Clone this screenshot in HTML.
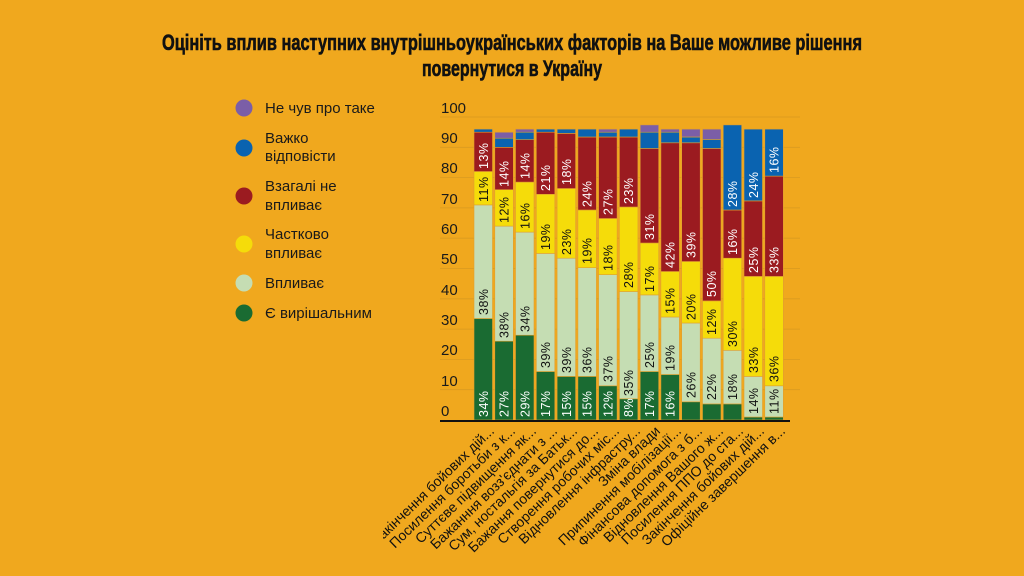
<!DOCTYPE html>
<html><head><meta charset="utf-8"><style>
html,body{margin:0;padding:0;background:#F0A81E;}
svg{display:block;font-family:"Liberation Sans",sans-serif;}
.t{font-family:"Liberation Sans Narrow","Liberation Sans",sans-serif;font-weight:bold;font-size:22px;fill:#111;stroke:#111;stroke-width:0.6;}
.lg{font-family:"Liberation Sans Narrow","Liberation Sans",sans-serif;font-size:15px;fill:#1a1a1a;}
.yl{font-family:"Liberation Sans Narrow","Liberation Sans",sans-serif;font-size:15px;fill:#1a1a1a;}
.v{font-size:12.5px;letter-spacing:0.5px;}
.w{fill:#fff}.k{fill:#111}
.c{font-size:14px;fill:#111;}
</style></head><body>
<svg width="1024" height="576" viewBox="0 0 1024 576">
<rect width="1024" height="576" fill="#F0A81E"/>
<text class="t" x="512" y="50" text-anchor="middle" textLength="700" lengthAdjust="spacingAndGlyphs">Оцініть вплив наступних внутрішньоукраїнських факторів на Ваше можливе рішення</text>
<text class="t" x="512" y="76" text-anchor="middle" textLength="180" lengthAdjust="spacingAndGlyphs">повернутися в Україну</text>

<g>
<circle cx="244" cy="108" r="8.5" fill="#7B5EA7"/><text class="lg" x="265" y="113">Не чув про таке</text>
<circle cx="244" cy="148" r="8.5" fill="#0A63B0"/><text class="lg" x="265" y="143">Важко</text><text class="lg" x="265" y="161">відповісти</text>
<circle cx="244" cy="196" r="8.5" fill="#9B1B20"/><text class="lg" x="265" y="191">Взагалі не</text><text class="lg" x="265" y="210">впливає</text>
<circle cx="244" cy="244" r="8.5" fill="#F5DC0A"/><text class="lg" x="265" y="239">Частково</text><text class="lg" x="265" y="258">впливає</text>
<circle cx="244" cy="283" r="8.5" fill="#C5DDB3"/><text class="lg" x="265" y="288">Впливає</text>
<circle cx="244" cy="313" r="8.5" fill="#1A6B32"/><text class="lg" x="265" y="318">Є вирішальним</text>
</g>

<g stroke="#D99A20" stroke-width="0.8">
<line x1="440" x2="800" y1="117" y2="117"/><line x1="440" x2="800" y1="147.3" y2="147.3"/><line x1="440" x2="800" y1="177.6" y2="177.6"/><line x1="440" x2="800" y1="207.9" y2="207.9"/><line x1="440" x2="800" y1="238.2" y2="238.2"/><line x1="440" x2="800" y1="268.5" y2="268.5"/><line x1="440" x2="800" y1="298.8" y2="298.8"/><line x1="440" x2="800" y1="329.1" y2="329.1"/><line x1="440" x2="800" y1="359.4" y2="359.4"/><line x1="440" x2="800" y1="389.7" y2="389.7"/>
</g>
<g class="yl">
<text x="441" y="113">100</text><text x="441" y="143">90</text><text x="441" y="173">80</text><text x="441" y="204">70</text><text x="441" y="234">60</text><text x="441" y="264">50</text><text x="441" y="295">40</text><text x="441" y="325">30</text><text x="441" y="355">20</text><text x="441" y="386">10</text><text x="441" y="416">0</text>
</g>

<g stroke="#E0A030" stroke-width="0.6">
<g transform="translate(474,0)">
<rect width="18.5" y="318.5" height="101.5" fill="#1A6B32"/><rect width="18.5" y="204.9" height="113.6" fill="#C5DDB3"/><rect width="18.5" y="171.5" height="33.4" fill="#F5DC0A"/><rect width="18.5" y="132.2" height="39.3" fill="#9B1B20"/><rect width="18.5" y="129.1" height="3.1" fill="#0A63B0"/></g>
<g transform="translate(494.8,0)">
<rect width="18.5" y="341.2" height="78.8" fill="#1A6B32"/><rect width="18.5" y="226.1" height="115.1" fill="#C5DDB3"/><rect width="18.5" y="189.7" height="36.4" fill="#F5DC0A"/><rect width="18.5" y="147.3" height="42.4" fill="#9B1B20"/><rect width="18.5" y="138.2" height="9.1" fill="#0A63B0"/><rect width="18.5" y="132.2" height="6" fill="#7B5EA7"/></g>
<g transform="translate(515.5,0)">
<rect width="18.5" y="335.2" height="84.8" fill="#1A6B32"/><rect width="18.5" y="232.1" height="103.1" fill="#C5DDB3"/><rect width="18.5" y="182.1" height="50" fill="#F5DC0A"/><rect width="18.5" y="139.7" height="42.4" fill="#9B1B20"/><rect width="18.5" y="132.2" height="7.5" fill="#0A63B0"/><rect width="18.5" y="129.1" height="3.1" fill="#7B5EA7"/></g>
<g transform="translate(536.3,0)">
<rect width="18.5" y="371.5" height="48.5" fill="#1A6B32"/><rect width="18.5" y="253.4" height="118.1" fill="#C5DDB3"/><rect width="18.5" y="194.3" height="59.1" fill="#F5DC0A"/><rect width="18.5" y="132.2" height="62.1" fill="#9B1B20"/><rect width="18.5" y="129.1" height="3.1" fill="#0A63B0"/></g>
<g transform="translate(557.1,0)">
<rect width="18.5" y="376.4" height="43.6" fill="#1A6B32"/><rect width="18.5" y="258.2" height="118.2" fill="#C5DDB3"/><rect width="18.5" y="188.5" height="69.7" fill="#F5DC0A"/><rect width="18.5" y="133.4" height="55.1" fill="#9B1B20"/><rect width="18.5" y="129.1" height="4.3" fill="#0A63B0"/></g>
<g transform="translate(577.9,0)">
<rect width="18.5" y="376.4" height="43.6" fill="#1A6B32"/><rect width="18.5" y="267.6" height="108.8" fill="#C5DDB3"/><rect width="18.5" y="210" height="57.6" fill="#F5DC0A"/><rect width="18.5" y="137" height="73" fill="#9B1B20"/><rect width="18.5" y="129.1" height="7.9" fill="#0A63B0"/></g>
<g transform="translate(598.6,0)">
<rect width="18.5" y="385.8" height="34.2" fill="#1A6B32"/><rect width="18.5" y="274.6" height="111.2" fill="#C5DDB3"/><rect width="18.5" y="218.5" height="56.1" fill="#F5DC0A"/><rect width="18.5" y="137" height="81.5" fill="#9B1B20"/><rect width="18.5" y="132.2" height="4.8" fill="#0A63B0"/><rect width="18.5" y="129.1" height="3.1" fill="#7B5EA7"/></g>
<g transform="translate(619.4,0)">
<rect width="18.5" y="398.8" height="21.2" fill="#1A6B32"/><rect width="18.5" y="291.5" height="107.3" fill="#C5DDB3"/><rect width="18.5" y="207" height="84.5" fill="#F5DC0A"/><rect width="18.5" y="137" height="70" fill="#9B1B20"/><rect width="18.5" y="129.1" height="7.9" fill="#0A63B0"/></g>
<g transform="translate(640.2,0)">
<rect width="18.5" y="371.5" height="48.5" fill="#1A6B32"/><rect width="18.5" y="294.9" height="76.6" fill="#C5DDB3"/><rect width="18.5" y="243" height="51.9" fill="#F5DC0A"/><rect width="18.5" y="148.5" height="94.5" fill="#9B1B20"/><rect width="18.5" y="132.2" height="16.3" fill="#0A63B0"/><rect width="18.5" y="124.9" height="7.3" fill="#7B5EA7"/></g>
<g transform="translate(660.9,0)">
<rect width="18.5" y="374.5" height="45.5" fill="#1A6B32"/><rect width="18.5" y="317" height="57.5" fill="#C5DDB3"/><rect width="18.5" y="271.5" height="45.5" fill="#F5DC0A"/><rect width="18.5" y="142.8" height="128.7" fill="#9B1B20"/><rect width="18.5" y="132.2" height="10.6" fill="#0A63B0"/><rect width="18.5" y="129.1" height="3.1" fill="#7B5EA7"/></g>
<g transform="translate(681.7,0)">
<rect width="18.5" y="401.8" height="18.2" fill="#1A6B32"/><rect width="18.5" y="323" height="78.8" fill="#C5DDB3"/><rect width="18.5" y="261.5" height="61.5" fill="#F5DC0A"/><rect width="18.5" y="142.8" height="118.7" fill="#9B1B20"/><rect width="18.5" y="137" height="5.8" fill="#0A63B0"/><rect width="18.5" y="129.1" height="7.9" fill="#7B5EA7"/></g>
<g transform="translate(702.5,0)">
<rect width="18.5" y="403.9" height="16.1" fill="#1A6B32"/><rect width="18.5" y="338.2" height="65.7" fill="#C5DDB3"/><rect width="18.5" y="300.9" height="37.3" fill="#F5DC0A"/><rect width="18.5" y="148.5" height="152.4" fill="#9B1B20"/><rect width="18.5" y="139.4" height="9.1" fill="#0A63B0"/><rect width="18.5" y="129.1" height="10.3" fill="#7B5EA7"/></g>
<g transform="translate(723.2,0)">
<rect width="18.5" y="403.9" height="16.1" fill="#1A6B32"/><rect width="18.5" y="350.3" height="53.6" fill="#C5DDB3"/><rect width="18.5" y="258.2" height="92.1" fill="#F5DC0A"/><rect width="18.5" y="210" height="48.2" fill="#9B1B20"/><rect width="18.5" y="124.9" height="85.1" fill="#0A63B0"/></g>
<g transform="translate(744,0)">
<rect width="18.5" y="417" height="3" fill="#1A6B32"/><rect width="18.5" y="376.4" height="40.6" fill="#C5DDB3"/><rect width="18.5" y="276.4" height="100" fill="#F5DC0A"/><rect width="18.5" y="200.9" height="75.5" fill="#9B1B20"/><rect width="18.5" y="129.1" height="71.8" fill="#0A63B0"/></g>
<g transform="translate(764.8,0)">
<rect width="18.5" y="417" height="3" fill="#1A6B32"/><rect width="18.5" y="385.8" height="31.2" fill="#C5DDB3"/><rect width="18.5" y="276.4" height="109.4" fill="#F5DC0A"/><rect width="18.5" y="176.1" height="100.3" fill="#9B1B20"/><rect width="18.5" y="129.1" height="47" fill="#0A63B0"/></g>
</g>

<g class="v">
<g transform="translate(483.3,0) rotate(-90)"><text class="w" x="-417" y="4.5">34%</text><text class="k" x="-315" y="4.5">38%</text><text class="k" x="-202" y="4.5">11%</text><text class="w" x="-169" y="4.5">13%</text></g>
<g transform="translate(504,0) rotate(-90)"><text class="w" x="-417" y="4.5">27%</text><text class="k" x="-338" y="4.5">38%</text><text class="k" x="-223" y="4.5">12%</text><text class="w" x="-187" y="4.5">14%</text></g>
<g transform="translate(524.8,0) rotate(-90)"><text class="w" x="-417" y="4.5">29%</text><text class="k" x="-332" y="4.5">34%</text><text class="k" x="-229" y="4.5">16%</text><text class="w" x="-179" y="4.5">14%</text></g>
<g transform="translate(545.6,0) rotate(-90)"><text class="w" x="-417" y="4.5">17%</text><text class="k" x="-368" y="4.5">39%</text><text class="k" x="-250" y="4.5">19%</text><text class="w" x="-191" y="4.5">21%</text></g>
<g transform="translate(566.4,0) rotate(-90)"><text class="w" x="-417" y="4.5">15%</text><text class="k" x="-373" y="4.5">39%</text><text class="k" x="-255" y="4.5">23%</text><text class="w" x="-185" y="4.5">18%</text></g>
<g transform="translate(587.1,0) rotate(-90)"><text class="w" x="-417" y="4.5">15%</text><text class="k" x="-373" y="4.5">36%</text><text class="k" x="-264" y="4.5">19%</text><text class="w" x="-207" y="4.5">24%</text></g>
<g transform="translate(607.9,0) rotate(-90)"><text class="w" x="-417" y="4.5">12%</text><text class="k" x="-382" y="4.5">37%</text><text class="k" x="-271" y="4.5">18%</text><text class="w" x="-215" y="4.5">27%</text></g>
<g transform="translate(628.7,0) rotate(-90)"><text class="w" x="-417" y="4.5">8%</text><text class="k" x="-396" y="4.5">35%</text><text class="k" x="-288" y="4.5">28%</text><text class="w" x="-204" y="4.5">23%</text></g>
<g transform="translate(649.4,0) rotate(-90)"><text class="w" x="-417" y="4.5">17%</text><text class="k" x="-368" y="4.5">25%</text><text class="k" x="-292" y="4.5">17%</text><text class="w" x="-240" y="4.5">31%</text></g>
<g transform="translate(670.2,0) rotate(-90)"><text class="w" x="-417" y="4.5">16%</text><text class="k" x="-371" y="4.5">19%</text><text class="k" x="-314" y="4.5">15%</text><text class="w" x="-268" y="4.5">42%</text></g>
<g transform="translate(691,0) rotate(-90)"><text class="k" x="-398" y="4.5">26%</text><text class="k" x="-320" y="4.5">20%</text><text class="w" x="-258" y="4.5">39%</text></g>
<g transform="translate(711.7,0) rotate(-90)"><text class="k" x="-400" y="4.5">22%</text><text class="k" x="-335" y="4.5">12%</text><text class="w" x="-297" y="4.5">50%</text></g>
<g transform="translate(732.5,0) rotate(-90)"><text class="k" x="-400" y="4.5">18%</text><text class="k" x="-347" y="4.5">30%</text><text class="w" x="-255" y="4.5">16%</text><text class="w" x="-207" y="4.5">28%</text></g>
<g transform="translate(753.3,0) rotate(-90)"><text class="k" x="-414" y="4.5">14%</text><text class="k" x="-373" y="4.5">33%</text><text class="w" x="-273" y="4.5">25%</text><text class="w" x="-198" y="4.5">24%</text></g>
<g transform="translate(774,0) rotate(-90)"><text class="k" x="-414" y="4.5">11%</text><text class="k" x="-382" y="4.5">36%</text><text class="w" x="-273" y="4.5">33%</text><text class="w" x="-173" y="4.5">16%</text></g>
</g>

<line x1="440" x2="790" y1="421" y2="421" stroke="#111" stroke-width="2"/>

<defs><clipPath id="cl"><rect x="383" y="421" width="640" height="155"/></clipPath></defs>
<g class="c" text-anchor="end" clip-path="url(#cl)">
<text transform="translate(495,432) rotate(-44)">Закінчення бойових дій...</text>
<text transform="translate(516,432) rotate(-44)">Посилення боротьби з к...</text>
<text transform="translate(537,432) rotate(-44)">Суттєве підвищення як...</text>
<text transform="translate(558,432) rotate(-44)">Бажанння возз'єднати з ...</text>
<text transform="translate(578,432) rotate(-44)">Сум, ностальгія за Батьк...</text>
<text transform="translate(599,432) rotate(-44)">Бажання повернутися до...</text>
<text transform="translate(620,432) rotate(-44)">Створення робочих міс...</text>
<text transform="translate(641,432) rotate(-44)">Відновлення інфрастру...</text>
<text transform="translate(661,432) rotate(-44)">Зміна влади</text>
<text transform="translate(682,432) rotate(-44)">Припинення мобілізації...</text>
<text transform="translate(703,432) rotate(-44)">Фінансова допомога з б...</text>
<text transform="translate(724,432) rotate(-44)">Відновлення Вашого ж...</text>
<text transform="translate(744,432) rotate(-44)">Посилення ППО до ста...</text>
<text transform="translate(765,432) rotate(-44)">Закінчення бойових дій...</text>
<text transform="translate(786,432) rotate(-44)">Офіційне завершення в...</text>
</g>
</svg>
</body></html>
